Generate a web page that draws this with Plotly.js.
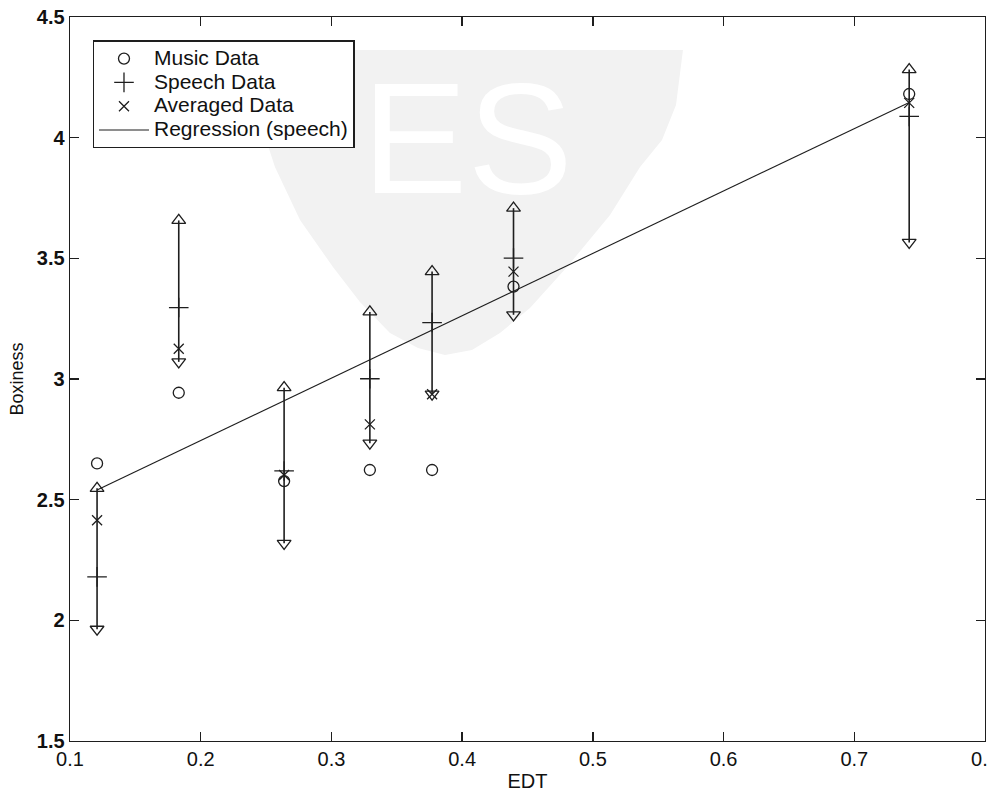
<!DOCTYPE html>
<html>
<head>
<meta charset="utf-8">
<script src="https://cdn.plot.ly/plotly-3.0.1.min.js"></script>
<style>
  html, body { margin: 0; padding: 0; background: #ffffff; }
  #chart { width: 988px; height: 796px; }
</style>
</head>
<body>
<div id="chart"></div>
<script>
// Early decay time (s) of each condition
const edt = [0.1207, 0.1832, 0.2638, 0.3294, 0.3770, 0.4393, 0.742];

// Boxiness ratings
const musicData    = [2.650, 2.943, 2.577, 2.623, 2.623, 3.383, 4.181];
const speechData   = [2.180, 3.296, 2.619, 3.001, 3.234, 3.501, 4.088];
const averagedData = [2.415, 3.125, 2.602, 2.812, 2.937, 3.445, 4.144];

// Confidence limits of the speech ratings
const speechUpper = [2.547, 3.657, 2.964, 3.278, 3.445, 3.708, 4.282];
const speechLower = [1.963, 3.071, 2.319, 2.734, 2.937, 3.266, 3.566];

// Fitted regression line on the speech ratings (end points)
const regressionEdt = [0.1207, 0.742];
const regressionBox = [2.540, 4.146];

// Legend labels
const seriesNames = ['Music Data', 'Speech Data', 'Averaged Data', 'Regression (speech)'];

const ink = '#1e1e1e';
const fontFamily = '"Liberation Sans", Arial, Helvetica, sans-serif';
const W = 988, H = 796;
const M = { l: 70, r: 3, t: 17, b: 55 };

// legend rows stay compact while the label text is drawn larger
const legendLabel = s => '<span style="font-size:21px">' + s + '</span>';

// vertical limit bars, one segment per condition
const barX = [], barY = [];
edt.forEach((x, i) => {
  barX.push(x, x, null);
  barY.push(speechLower[i], speechUpper[i], null);
});

const traces = [
  {
    x: barX, y: barY, mode: 'lines', showlegend: false, hoverinfo: 'skip',
    line: { color: ink, width: 1.6 }
  },
  {
    x: edt, y: speechUpper, mode: 'markers', showlegend: false,
    marker: { symbol: 'triangle-up-open', size: 12, color: ink, line: { color: ink, width: 1.3 } }
  },
  {
    x: edt, y: speechLower, mode: 'markers', showlegend: false,
    marker: { symbol: 'triangle-down-open', size: 12, color: ink, line: { color: ink, width: 1.3 } }
  },
  {
    x: edt, y: musicData, mode: 'markers', name: legendLabel(seriesNames[0]),
    marker: { symbol: 'circle-open', size: 11, color: ink, line: { color: ink, width: 1.3 } }
  },
  {
    x: edt, y: speechData, mode: 'markers', name: legendLabel(seriesNames[1]),
    marker: { symbol: 'cross-thin-open', size: 14, color: ink, line: { color: ink, width: 1.3 } }
  },
  {
    x: edt, y: averagedData, mode: 'markers', name: legendLabel(seriesNames[2]),
    marker: { symbol: 'x-thin-open', size: 10, color: ink, line: { color: ink, width: 1.3 } }
  },
  {
    x: regressionEdt, y: regressionBox, mode: 'lines', name: legendLabel(seriesNames[3]),
    line: { color: ink, width: 1.1 }
  }
];

// faint emblem behind the plot, outlined in page pixels
const plotW = W - M.l - M.r, plotH = H - M.t - M.b;
const px = v => ((v - M.l) / plotW).toFixed(4);
const py = v => (1 - (v - M.t) / plotH).toFixed(4);
const emblemOutline = [
  [245, 50], [683, 50], [676, 105], [662, 140], [640, 167], [610, 215], [567, 267],
  [530, 308], [500, 333], [472, 350], [445, 355], [418, 348], [390, 333],
  [360, 302], [333, 267], [300, 220], [275, 167], [258, 115]
];
const emblemPath = 'M' + emblemOutline.map(p => px(p[0]) + ',' + py(p[1])).join(' L') + ' Z';

const axisCommon = {
  showline: true, linecolor: ink, linewidth: 1.4,
  mirror: 'ticks', ticks: 'inside', ticklen: 9, tickwidth: 1.3, tickcolor: ink,
  showgrid: false, zeroline: false, automargin: false,
  tickfont: { family: fontFamily, size: 20, color: '#111' }
};

const layout = {
  width: W, height: H,
  margin: M,
  paper_bgcolor: '#ffffff', plot_bgcolor: 'rgba(0,0,0,0)',
  font: { family: fontFamily, color: '#111' },
  showlegend: true,
  xaxis: Object.assign({}, axisCommon, {
    range: [0.1, 0.8], tick0: 0.1, dtick: 0.1, ticklabeloverflow: 'allow',
    title: { text: 'EDT', font: { family: fontFamily, size: 20, color: '#111' }, standoff: 4 }
  }),
  yaxis: Object.assign({}, axisCommon, {
    range: [1.5, 4.5], tick0: 1.5, dtick: 0.5,
    tickfont: { family: fontFamily, size: 20, color: '#111', weight: 'bold' },
    title: { text: 'Boxiness', font: { family: fontFamily, size: 18, color: '#111' }, standoff: 8 }
  }),
  legend: {
    x: 0.0248, y: 0.9677, xanchor: 'left', yanchor: 'top',
    bgcolor: '#ffffff', bordercolor: ink, borderwidth: 1.3,
    font: { family: fontFamily, size: 16, color: '#111' },
    itemwidth: 50, tracegroupgap: 0
  },
  shapes: [{
    type: 'path', xref: 'paper', yref: 'paper', layer: 'below',
    path: emblemPath, fillcolor: '#f2f2f2', line: { width: 0 }
  }],
  annotations: [{
    text: 'ES', xref: 'paper', yref: 'paper', x: px(467), y: py(138),
    xanchor: 'center', yanchor: 'middle', showarrow: false,
    font: { family: fontFamily, size: 158, color: '#ffffff' }
  }]
};

Plotly.newPlot('chart', traces, layout, { staticPlot: true, displayModeBar: false });
</script>
</body>
</html>
